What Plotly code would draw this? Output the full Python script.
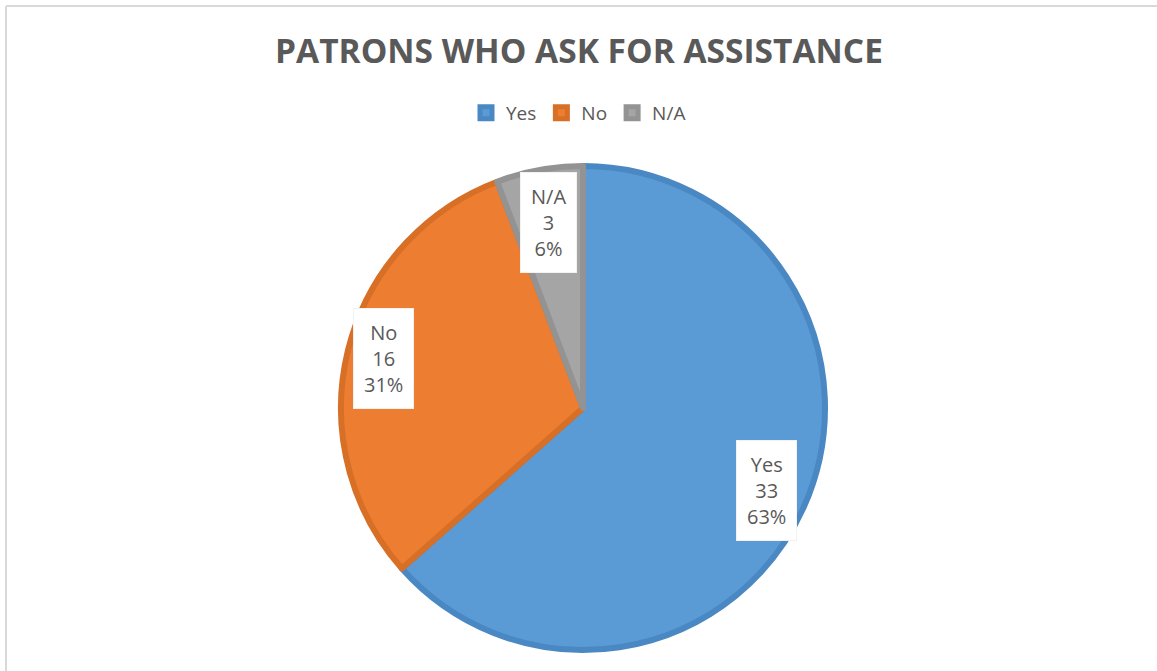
import math
import plotly.graph_objects as go

# ---- data ----
categories = ["Yes", "No", "N/A"]
values = [33, 16, 3]
title_text = "PATRONS WHO ASK FOR ASSISTANCE"

# ---- style ----
W, H = 1157, 671
colors = ["#5B9BD5", "#ED7D31", "#A5A5A5"]
edge_colors = ["#4A88C4", "#D86F27", "#939393"]
cx, cy, R = 583, 408, 242
label_radius_frac = [0.83, 0.85, 0.78]
font_family = "Open Sans"
text_color = "#595959"

fig = go.Figure()
fig.add_trace(go.Pie(
    labels=categories,
    values=values,
    sort=False,
    direction="clockwise",
    rotation=0,
    textinfo="none",
    hoverinfo="label+value+percent",
    marker=dict(colors=colors, line=dict(color=edge_colors, width=6)),
    domain=dict(x=[(cx - R) / W, (cx + R) / W], y=[1 - (cy + R) / H, 1 - (cy - R) / H]),
))

# callout labels computed from slice angles
total = sum(values)
cum = 0
annotations = []
for i, (cat, v) in enumerate(zip(categories, values)):
    mid = (cum + v / 2) / total * 2 * math.pi
    cum += v
    r = R * label_radius_frac[i]
    px = cx + r * math.sin(mid)
    py = cy - r * math.cos(mid)
    pct = round(100 * v / total)
    annotations.append(dict(
        x=px / W, y=1 - py / H, xref="paper", yref="paper",
        xanchor="center", yanchor="middle",
        text=f"{cat}<br>{v}<br>{pct}%", showarrow=False,
        align="center", bgcolor="white", borderpad=10,
        bordercolor="#F2F2F2", borderwidth=1,
        font=dict(family=font_family, size=20, color=text_color),
    ))

annotations.append(dict(
    x=0.5, y=1 - 50 / H, xref="paper", yref="paper", showarrow=False,
    text=f"<b>{title_text}</b>", xanchor="center", yanchor="middle",
    font=dict(family=font_family, size=33.5, color=text_color),
))

fig.update_layout(
    width=W, height=H,
    margin=dict(l=0, r=0, t=0, b=0),
    paper_bgcolor="white",
    plot_bgcolor="white",
    annotations=annotations,
    showlegend=True,
    legend=dict(orientation="h", x=0.5, xanchor="center", y=1 - 113 / H, yanchor="middle",
                font=dict(family=font_family, size=19, color=text_color),
                itemwidth=30, traceorder="normal"),
    shapes=[
        dict(type="line", xref="paper", yref="paper",
             x0=6 / W, x1=6 / W, y0=0, y1=1 - 6 / H,
             line=dict(color="#D9D9D9", width=2), layer="below"),
        dict(type="line", xref="paper", yref="paper",
             x0=6 / W, x1=1, y0=1 - 6 / H, y1=1 - 6 / H,
             line=dict(color="#D9D9D9", width=2), layer="below"),
    ],
)

fig.write_html("out.html", config={"displayModeBar": False},
               post_script="document.body.style.margin='0';")
